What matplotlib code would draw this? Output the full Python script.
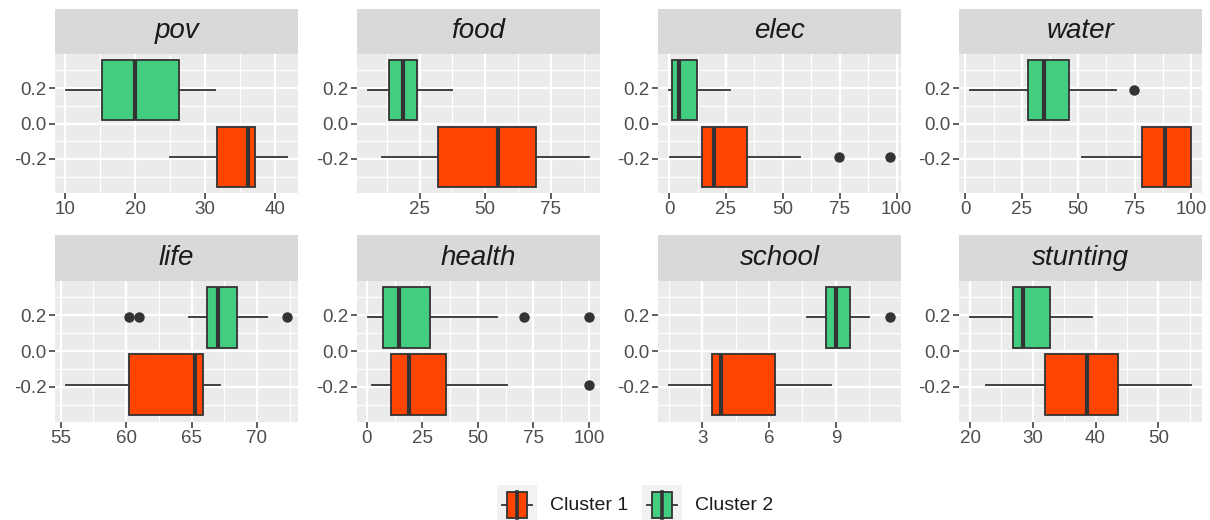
import matplotlib
matplotlib.use("Agg")
import matplotlib.pyplot as plt
from matplotlib.ticker import FixedLocator, AutoMinorLocator, FixedFormatter
from matplotlib.patches import Rectangle
from matplotlib.lines import Line2D

# ---------------- data ----------------
variables = ["pov", "food", "elec", "water", "life", "health", "school", "stunting"]
clusters = ["Cluster 1", "Cluster 2"]

c1_lo = [24.9, 10.9, 0.4, 51.8, 55.4, 2.4, 1.52, 22.6]
c1_q1 = [31.7, 32.1, 14.4, 78.1, 60.2, 10.7, 3.45, 32.0]
c1_med = [36.1, 54.8, 19.8, 88.4, 65.3, 18.9, 3.83, 38.7]
c1_q3 = [37.2, 69.3, 34.4, 100.0, 65.9, 35.4, 6.27, 43.6]
c1_hi = [41.7, 89.5, 57.5, 100.0, 67.2, 63.2, 8.78, 55.2]
c1_out = [[], [], [74.8, 97.0], [], [], [100.0], [], []]

c2_lo = [10.1, 5.4, 0.0, 2.1, 64.8, 0.5, 7.70, 20.0]
c2_q1 = [15.2, 13.3, 1.2, 27.7, 66.2, 7.2, 8.55, 26.8]
c2_med = [19.9, 18.7, 4.4, 34.8, 67.0, 14.4, 9.0, 28.5]
c2_q3 = [26.2, 23.9, 12.2, 45.8, 68.5, 28.3, 9.64, 32.7]
c2_hi = [31.4, 37.2, 26.8, 67.0, 70.8, 58.4, 10.47, 39.5]
c2_out = [[], [], [], [74.7], [60.2, 61.0, 72.3], [70.7, 100.0], [11.42], []]

xticks = [[10, 20, 30, 40], [25, 50, 75], [0, 25, 50, 75, 100], [0, 25, 50, 75, 100],
          [55, 60, 65, 70], [0, 25, 50, 75, 100], [3, 6, 9], [20, 30, 40, 50]]
yticks = [-0.2, 0.0, 0.2]
ytick_labels = ["-0.2", "0.0", "0.2"]

# ---------------- style ----------------
plt.rcParams['font.family'] = ['Liberation Sans', 'DejaVu Sans']
colors = ["#FF4500", "#43CD80"]
edge = "#333333"
panel_bg = "#EBEBEB"
strip_bg = "#D9D9D9"

W, H = 1210, 520
fig = plt.figure(figsize=(W / 100, H / 100), dpi=100)
fig.patch.set_facecolor("white")


def fr(x0, y0, x1, y1):
    return [x0 / W, 1 - y1 / H, (x1 - x0) / W, (y1 - y0) / H]


col_left = [55, 357, 658, 959]
panel_w = 243
rows = [(54, 193, 9), (280.5, 421.5, 235)]  # axes top, axes bottom, strip top

positions = [-0.1875, 0.1875]
box_w = 0.3375

for i, var in enumerate(variables):
    r, c = divmod(i, 4)
    top, bot, stop = rows[r]
    x0 = col_left[c]
    ax = fig.add_axes(fr(x0, top, x0 + panel_w, bot))
    sax = fig.add_axes(fr(x0, stop, x0 + panel_w, top))

    stats = [
        dict(med=c1_med[i], q1=c1_q1[i], q3=c1_q3[i], whislo=c1_lo[i], whishi=c1_hi[i], fliers=c1_out[i]),
        dict(med=c2_med[i], q1=c2_q1[i], q3=c2_q3[i], whislo=c2_lo[i], whishi=c2_hi[i], fliers=c2_out[i]),
    ]
    res = ax.bxp(stats, positions=positions, widths=box_w, orientation='horizontal',
                 patch_artist=True, showcaps=False,
                 boxprops=dict(edgecolor=edge, linewidth=1.3),
                 medianprops=dict(color=edge, linewidth=3.0, solid_capstyle='butt'),
                 whiskerprops=dict(color=edge, linewidth=1.3),
                 flierprops=dict(marker='o', markerfacecolor=edge, markeredgecolor=edge,
                                 markersize=6.5, linestyle='none'))
    for b, col in zip(res['boxes'], colors):
        b.set_facecolor(col)
        b.set_zorder(3)
    for m in res['medians']:
        m.set_zorder(4)

    allv = [c1_lo[i], c2_lo[i], c1_hi[i], c2_hi[i]] + c1_out[i] + c2_out[i]
    lo, hi = min(allv), max(allv)
    pad = 0.05 * (hi - lo)
    ax.set_xlim(lo - pad, hi + pad)
    ext = positions[1] + box_w / 2
    ax.set_ylim(-ext - 0.05 * 2 * ext, ext + 0.05 * 2 * ext)

    ax.set_facecolor(panel_bg)
    ax.set_axisbelow(True)
    ax.xaxis.set_major_locator(FixedLocator(xticks[i]))
    ax.xaxis.set_minor_locator(AutoMinorLocator(2))
    ax.yaxis.set_major_locator(FixedLocator(yticks))
    ax.yaxis.set_major_formatter(FixedFormatter(ytick_labels))
    ax.yaxis.set_minor_locator(AutoMinorLocator(2))
    ax.grid(which='major', color='white', linewidth=1.6)
    ax.grid(which='minor', color='white', linewidth=0.8)
    for s in ax.spines.values():
        s.set_visible(False)
    ax.tick_params(which='major', length=4, width=1.1, color=edge, labelcolor="#4D4D4D",
                   labelsize=13.5, pad=2)
    ax.tick_params(which='minor', length=0)

    sax.set_facecolor(strip_bg)
    sax.set_xticks([])
    sax.set_yticks([])
    for s in sax.spines.values():
        s.set_visible(False)
    sax.text(0.5, 0.5, var, transform=sax.transAxes, ha='center', va='center',
             fontsize=20, style='italic', color="#1A1A1A")

# ---------------- legend ----------------
lax = fig.add_axes([0, 0, 1, 1], zorder=-1)
lax.set_xlim(0, W)
lax.set_ylim(H, 0)
lax.axis('off')
key_left = [497, 642]
for kx, col, lab in zip(key_left, colors, clusters):
    lax.add_patch(Rectangle((kx, 485), 40, 40, facecolor="#F2F2F2", edgecolor='none'))
    lax.add_line(Line2D([kx + 4.5, kx + 35], [505, 505], color=edge, linewidth=1.3))
    lax.add_patch(Rectangle((kx + 9.5, 492), 20, 26, facecolor=col, edgecolor=edge, linewidth=1.3, zorder=3))
    lax.add_line(Line2D([kx + 19.5, kx + 19.5], [492, 518], color=edge, linewidth=2.6, zorder=4))
    lax.text(kx + 53, 506, lab, ha='left', va='center', fontsize=14, color="#1A1A1A")

fig.savefig("out.png", dpi=100, facecolor="white")
